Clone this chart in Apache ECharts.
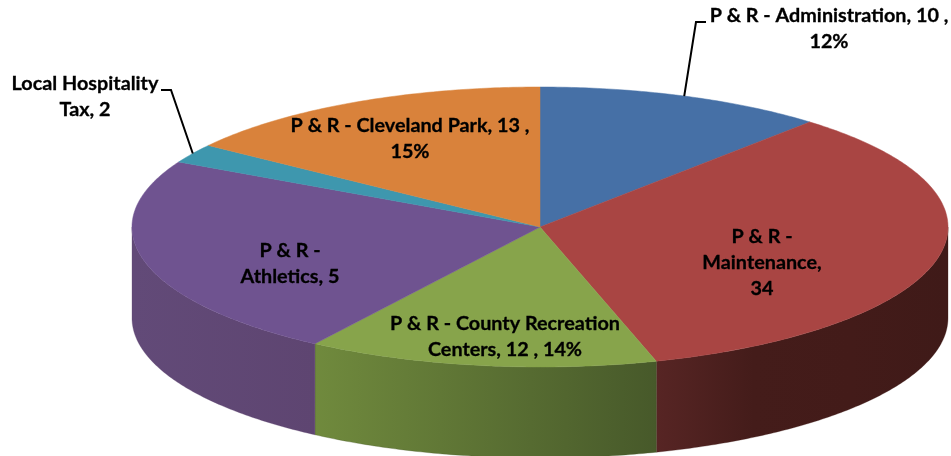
<!DOCTYPE html>
<html>
<head>
<meta charset="utf-8">
<title>3D pie</title>
<script src="https://cdn.jsdelivr.net/npm/echarts@6/dist/echarts.min.js"></script>
<style>
    html, body { margin: 0; padding: 0; background: #fff; }
    #pie_3d { width: 951px; height: 456px; }
</style>
</head>
<body>
<div id="pie_3d"></div>
<script>
// Chart data, clockwise from 12 o'clock
var categories = ['P & R - Administration', 'P & R - Maintenance', 'P & R - County Recreation Centers', 'P & R - Athletics', 'Local Hospitality Tax', 'P & R - Cleveland Park'];
var sliceShares = [11.5, 33.9, 13.9, 23.4, 2.2, 15.1];
var sliceLabels = [
    'P & R - Administration, 10 ,\n12%',
    'P & R -\nMaintenance,\n34',
    'P & R - County Recreation\nCenters, 12 , 14%',
    'P & R -\nAthletics, 5',
    'Local Hospitality\nTax, 2',
    'P & R - Cleveland Park, 13 ,\n15%'
];

// Look of the slices
var topColors = ['#4670a6', '#a94543', '#87a44b', '#6f5390', '#3e97ae', '#d9823b'];
var wallColors = [
    ['#3a5d8a', '#2f4c72'],
    ['#572524', '#441c1a', '#431b19', '#3f1a18'],
    ['#708a3d', '#47592a'],
    ['#624a78', '#5e4571'],
    ['#327f93', '#2c6f80'],
    ['#b56c30', '#95582a']
];

// Label centres and leader elbows
var labelCenters = [[829, 29], [762, 263], [505, 337], [290, 264], [85, 97], [410, 139]];
var leaderElbows = [[[696, 22], [706, 22]], null, null, null, [[171, 90], [161, 90]], null];

// Pie geometry
var cx = 540, cy = 227, rx = 408, ry = 140, depth = 91;

var total = sliceShares.reduce(function (a, b) { return a + b; }, 0);
var sliceAngles = [];
sliceShares.reduce(function (acc, v) {
    var next = acc + v / total * 2 * Math.PI;
    sliceAngles.push([acc, next]);
    return next;
}, 0);

var rim = function (a, dy) {
    return [cx + rx * Math.sin(a), cy - ry * Math.cos(a) + (dy || 0)];
};

var arcPoints = function (a0, a1, dy) {
    var pts = [];
    var n = Math.max(2, Math.ceil((a1 - a0) * 90));
    for (var i = 0; i <= n; i++) {
        pts.push(rim(a0 + (a1 - a0) * i / n, dy));
    }
    return pts;
};

var renderTop = function (params) {
    var a = sliceAngles[params.dataIndex];
    return {
        type: 'polygon',
        shape: { points: [[cx, cy]].concat(arcPoints(a[0], a[1])) },
        style: { fill: topColors[params.dataIndex], stroke: topColors[params.dataIndex], lineWidth: 0.5 }
    };
};

var renderWall = function (params) {
    var a = sliceAngles[params.dataIndex];
    // only the near half of the rim shows
    var a0 = Math.max(a[0], Math.PI / 2);
    var a1 = Math.min(a[1], Math.PI * 3 / 2);
    if (a1 <= a0) {
        return { type: 'group', children: [] };
    }
    var colors = wallColors[params.dataIndex];
    var front = arcPoints(a0, a1);
    var back = arcPoints(a0, a1, depth).reverse();
    var stops = colors.map(function (c, k) {
        return { offset: k / (colors.length - 1), color: c };
    });
    return {
        type: 'polygon',
        shape: { points: front.concat(back) },
        style: {
            fill: new echarts.graphic.LinearGradient(0, 0, 1, 0, stops),
            stroke: colors[colors.length - 1],
            lineWidth: 0.3
        }
    };
};

var renderLabel = function (params) {
    var i = params.dataIndex;
    var a = sliceAngles[i];
    var children = [];
    if (leaderElbows[i]) {
        children.push({
            type: 'polyline',
            shape: { points: [rim((a[0] + a[1]) / 2)].concat(leaderElbows[i]) },
            style: { stroke: '#000', lineWidth: 2, fill: null }
        });
    }
    children.push({
        type: 'text',
        x: labelCenters[i][0],
        y: labelCenters[i][1],
        style: {
            text: sliceLabels[i],
            fill: '#000',
            stroke: '#000',
            lineWidth: 0.3,
            font: 'bold 19.8px Lato, sans-serif',
            lineHeight: 26,
            align: 'center',
            verticalAlign: 'middle'
        }
    });
    return { type: 'group', children: children };
};

var chart = echarts.init(document.getElementById('pie_3d'));

var sliceData = categories.map(function (name, i) {
    return { name: name, value: sliceShares[i] };
});

chart.setOption({
    animation: false,
    series: [
        { type: 'custom', coordinateSystem: 'none', z: 1, silent: true, renderItem: renderWall, data: sliceData },
        { type: 'custom', coordinateSystem: 'none', z: 2, silent: true, renderItem: renderTop, data: sliceData },
        { type: 'custom', coordinateSystem: 'none', z: 3, silent: true, renderItem: renderLabel, data: sliceData }
    ]
});
</script>
</body>
</html>
